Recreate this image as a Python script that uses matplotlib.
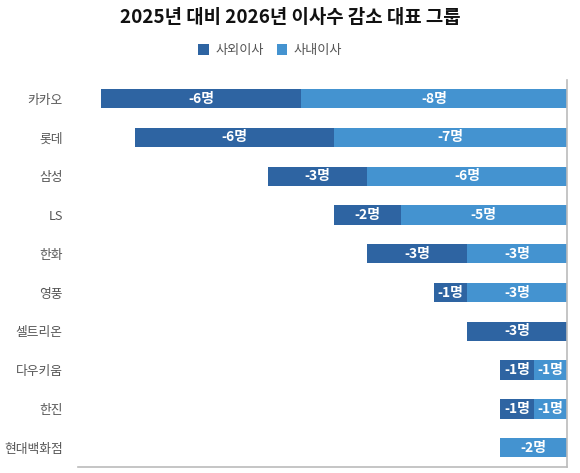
import numpy as np
import matplotlib.pyplot as plt

plt.rcParams['font.family'] = ['Noto Sans CJK KR', 'DejaVu Sans']

groups = ['카카오', '롯데', '삼성', 'LS', '한화', '영풍', '셀트리온', '다우키움', '한진', '현대백화점']
outside = [-6, -6, -3, -2, -3, -1, -3, -1, -1, 0]   # 사외이사
inside = [-8, -7, -6, -5, -3, -3, 0, -1, -1, -2]    # 사내이사

dark = '#2e64a2'
light = '#4493d0'

fig = plt.figure(figsize=(5.8, 4.73), dpi=100)
ax = fig.add_axes([0.1345, 0.0127, 0.8431, 0.818])

y = np.arange(len(groups))
inside = np.array(inside)
outside = np.array(outside)

b2 = ax.barh(y, inside, height=0.5, color=light, label='사내이사')
b1 = ax.barh(y, outside, left=inside, height=0.5, color=dark, label='사외이사')

for bars, vals, lefts in [(b2, inside, np.zeros(len(y))), (b1, outside, inside)]:
    for yi, v, l in zip(y, vals, lefts):
        if v == 0:
            continue
        ax.text(l + v / 2, yi, f'{v}명', ha='center', va='center',
                color='white', fontsize=10, fontweight='bold')

ax.set_xlim(-14.7, 0)
ax.set_ylim(len(groups) - 0.5, -0.48)
ax.set_yticks(y)
ax.set_yticklabels(groups, fontsize=9.2, color='#555555')
ax.tick_params(axis='y', length=0, pad=11)
ax.set_xticks([])

for s in ['top', 'left']:
    ax.spines[s].set_visible(False)
for s in ['right', 'bottom']:
    ax.spines[s].set_color('#bbbbbb')
    ax.spines[s].set_linewidth(1.2)

fig.text(0.5, 0.962, '2025년 대비 2026년 이사수 감소 대표 그룹', ha='center', va='center',
         fontsize=13.6, fontweight='bold', color='#111111')

handles = [b1, b2]
fig.legend(handles, ['사외이사', '사내이사'], loc='center', bbox_to_anchor=(0.466, 0.894),
           ncol=2, frameon=False, fontsize=9.5, handlelength=0.8, handleheight=0.9,
           columnspacing=1.0, handletextpad=0.5, labelcolor='#555555')

fig.savefig('out.png', dpi=100)
